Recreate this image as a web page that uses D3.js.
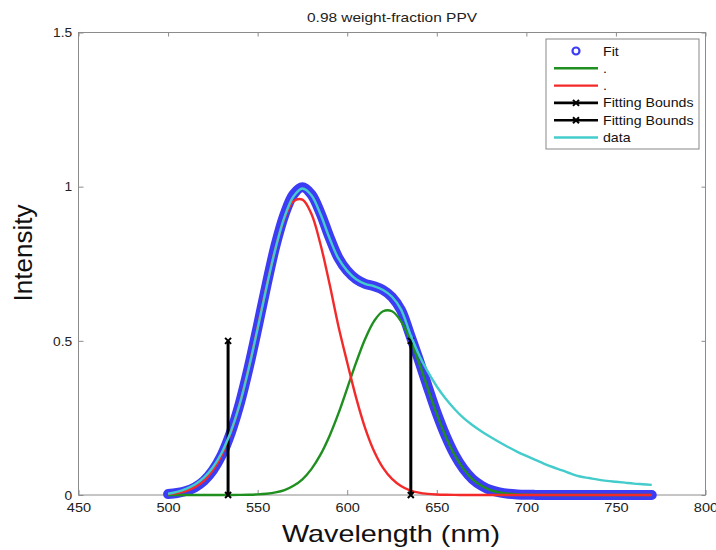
<!DOCTYPE html>
<html>
<head>
<meta charset="utf-8">
<script src="https://cdn.jsdelivr.net/npm/d3@7"></script>
<style>
  html, body { margin: 0; padding: 0; background: #fff; }
  svg { display: block; font-family: "Liberation Sans", Arial, Helvetica, sans-serif; }
</style>
</head>
<body>
<svg id="chart" width="716" height="550"></svg>
<script>
// ---------------- data ----------------
const wavelength = [500,505,510,515,520,525,530,535,540,545,550,555,560,565,570,575,580,585,590,595,
  600,605,610,615,620,625,630,635,640,645,650,655,660,665,670,675,680,685,690,695,
  700,705,710,715,720,725,730,735,740,745,750,755,760,765,770];

const fitValues = [0.003,0.0065,0.013,0.025,0.046,0.080,0.130,0.202,0.296,0.413,0.545,0.682,0.810,0.910,0.975,0.998,0.975,0.915,0.838,0.770,
  0.727,0.700,0.685,0.677,0.665,0.642,0.600,0.521,0.438,0.350,0.265,0.191,0.130,0.084,0.051,0.030,0.016,0.0085,0.0042,0.002,
  0.0009,0.0004,0.0001,0,0,0,0,0,0,0,0,0,0,0,0];

const greenValues = [0,0,0,0,0,0,0.0001,0.0001,0.0004,0.0009,0.002,0.0042,0.0085,0.016,0.030,0.051,0.084,0.130,0.190,0.263,
  0.346,0.430,0.506,0.564,0.596,0.596,0.564,0.506,0.430,0.346,0.263,0.190,0.130,0.084,0.051,0.030,0.016,0.0085,0.0042,0.002,
  0.0009,0.0004,0.0001,0,0,0,0,0,0,0,0,0,0,0,0];

const redValues = [0.003,0.0065,0.013,0.025,0.046,0.080,0.130,0.202,0.296,0.412,0.543,0.678,0.801,0.898,0.953,0.958,0.912,0.815,0.688,0.550,
  0.430,0.315,0.217,0.142,0.088,0.052,0.029,0.015,0.0075,0.0035,0.0016,0.0007,0.0003,0,0,0,0,0,0,0,
  0,0,0,0,0,0,0,0,0,0,0,0,0,0,0];

const dataValues = [0.004,0.010,0.020,0.034,0.056,0.090,0.138,0.205,0.295,0.410,0.540,0.675,0.800,0.902,0.968,0.994,0.972,0.912,0.835,0.768,
  0.727,0.700,0.685,0.677,0.665,0.643,0.602,0.525,0.455,0.400,0.352,0.312,0.278,0.249,0.226,0.206,0.188,0.171,0.155,0.140,
  0.127,0.114,0.101,0.090,0.080,0.069,0.060,0.055,0.050,0.046,0.043,0.040,0.037,0.035,0.033];

const boundsX = [533.5, 635.5];
const boundsY = [0, 0.5];

const xTicks = [450,500,550,600,650,700,750,800];
const yTicks = [0,0.5,1,1.5];
const yTickLabels = ["0","0.5","1","1.5"];

const titleText = "0.98 weight-fraction PPV";
const xLabelText = "Wavelength (nm)";
const yLabelText = "Intensity";
const legendLabels = ["Fit", ".", ".", "Fitting Bounds", "Fitting Bounds", "data"];

// ---------------- drawing ----------------
const svg = d3.select("#chart");
const x = d3.scaleLinear().domain([450, 800]).range([78.5, 705.5]);
const y = d3.scaleLinear().domain([0, 1.5]).range([495, 32.5]);

const C = { fit: "#3c3cf5", green: "#1f901f", red: "#f42a2a", black: "#000", data: "#44cccc", axis: "#8c8c8c" };

svg.append("rect").attr("width", 716).attr("height", 550).attr("fill", "#fff");

// Axes box
const gAxes = svg.append("g");
function styleAxis(g) {
  g.select(".domain").remove();
  g.selectAll(".tick line").attr("stroke", C.axis);
  g.selectAll(".tick text").attr("fill", "#222").style("font-size", "13px");
}
gAxes.append("g").attr("transform", `translate(0,${y(0)})`)
  .call(d3.axisBottom(x).tickValues(xTicks).tickSize(-5).tickPadding(8).tickFormat(d3.format("d")))
  .call(styleAxis)
  .call(g => g.selectAll(".tick text").attr("transform", "scale(1.12,1)"));
gAxes.append("g").attr("transform", `translate(0,${y(1.5)})`)
  .call(d3.axisTop(x).tickValues(xTicks).tickSize(-4).tickFormat(""))
  .call(styleAxis);
gAxes.append("g").attr("transform", `translate(${x(450)},0)`)
  .call(d3.axisLeft(y).tickValues(yTicks).tickSize(-5).tickPadding(6).tickFormat((d, i) => yTickLabels[i]))
  .call(styleAxis)
  .call(g => g.selectAll(".tick text").attr("transform", "scale(1.06,1)"));
gAxes.append("g").attr("transform", `translate(${x(800)},0)`)
  .call(d3.axisRight(y).tickValues(yTicks).tickSize(-4).tickFormat(""))
  .call(styleAxis);
svg.append("rect")
  .attr("x", x(450)).attr("y", y(1.5))
  .attr("width", x(800) - x(450)).attr("height", y(0) - y(1.5))
  .attr("fill", "none").attr("stroke", C.axis).attr("stroke-width", 1);

// Lines
const line = vals => d3.line()
  .x((d, i) => x(wavelength[i]))
  .y(d => y(d))
  .curve(d3.curveCatmullRom.alpha(0.5))(vals);

const plot = svg.append("g");
plot.append("path").attr("d", line(fitValues))
  .attr("fill", "none").attr("stroke", C.fit).attr("stroke-width", 10)
  .attr("stroke-linecap", "round").attr("stroke-linejoin", "round");
plot.append("path").attr("d", line(greenValues))
  .attr("fill", "none").attr("stroke", C.green).attr("stroke-width", 2.4);
plot.append("path").attr("d", line(redValues))
  .attr("fill", "none").attr("stroke", C.red).attr("stroke-width", 2.4);

// Fitting bounds
const xMark = "M-3,-3L3,3M-3,3L3,-3";
boundsX.forEach(bx => {
  plot.append("line")
    .attr("x1", x(bx)).attr("x2", x(bx))
    .attr("y1", y(boundsY[0])).attr("y2", y(boundsY[1]))
    .attr("stroke", C.black).attr("stroke-width", 3);
  boundsY.forEach(by => {
    plot.append("path").attr("d", xMark)
      .attr("transform", `translate(${x(bx)},${y(by)})`)
      .attr("stroke", C.black).attr("stroke-width", 2).attr("fill", "none");
  });
});

plot.append("path").attr("d", line(dataValues))
  .attr("fill", "none").attr("stroke", C.data).attr("stroke-width", 2.4);

// Title & labels
svg.append("text").attr("x", 392).attr("y", 21.5)
  .attr("text-anchor", "middle").style("font-size", "13px").attr("fill", "#222")
  .attr("textLength", 170).attr("lengthAdjust", "spacingAndGlyphs")
  .text(titleText);
svg.append("text").attr("x", 391).attr("y", 542)
  .attr("text-anchor", "middle").style("font-size", "24px").attr("fill", "#111")
  .attr("textLength", 218).attr("lengthAdjust", "spacingAndGlyphs")
  .text(xLabelText);
svg.append("text").attr("transform", "translate(31.5,253) rotate(-90)")
  .attr("text-anchor", "middle").style("font-size", "25px").attr("fill", "#111")
  .attr("textLength", 97).attr("lengthAdjust", "spacingAndGlyphs")
  .text(yLabelText);

// Legend
const leg = svg.append("g");
leg.append("rect").attr("x", 546).attr("y", 39).attr("width", 153).attr("height", 110)
  .attr("fill", "#fff").attr("stroke", "#888").attr("stroke-width", 1);
const legColors = [C.fit, C.green, C.red, C.black, C.black, C.data];
legendLabels.forEach((lab, i) => {
  const ry = 51 + i * 17.3;
  if (i === 0) {
    leg.append("circle").attr("cx", 576).attr("cy", ry).attr("r", 3.5)
      .attr("fill", "none").attr("stroke", C.fit).attr("stroke-width", 2.2);
  } else {
    leg.append("line").attr("x1", 554).attr("x2", 598).attr("y1", ry).attr("y2", ry)
      .attr("stroke", legColors[i]).attr("stroke-width", (i === 3 || i === 4) ? 2.6 : 2.4);
    if (i === 3 || i === 4) {
      leg.append("path").attr("d", xMark).attr("transform", `translate(576,${ry})`)
        .attr("stroke", C.black).attr("stroke-width", 2).attr("fill", "none");
    }
  }
  leg.append("text").attr("transform", `translate(603,${ry + 4.5}) scale(1.09,1)`)
    .style("font-size", "13px").attr("fill", "#111").text(lab);
});
</script>
</body>
</html>
